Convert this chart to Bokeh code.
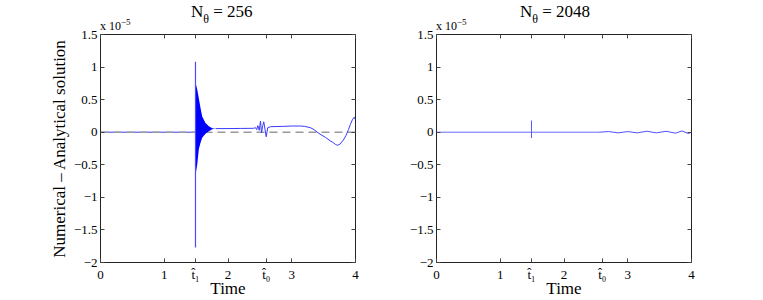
from bokeh.plotting import figure
from bokeh.layouts import row, column
from bokeh.models import LinearAxis, FixedTicker, Range1d, Div
from bokeh.embed import file_html
from bokeh.resources import INLINE

# ---------------- data (values in units of 1e-5) ----------------
t_hat1 = 1.49
t_hat0 = 2.60
x_ticks = [0, 1, t_hat1, 2, t_hat0, 3, 4]
x_tick_labels = ["0", "1", "t\u0302\u2081", "2", "t\u0302\u2080", "3", "4"]
y_ticks = [-2, -1.5, -1, -0.5, 0, 0.5, 1, 1.5]
y_tick_labels = ["\u22122", "\u22121.5", "\u22121", "\u22120.5", "0", "0.5", "1", "1.5"]
titles = ["256", "2048"]
y_label = "Numerical \u2013 Analytical solution"
x_label = "Time"

# N_theta = 256
pre_time = [0.0, 1.49]
pre_diff = [0.0, 0.0]
spike_time = [1.49, 1.49]
spike_diff = [-1.77, 1.08]
env_time = [1.490, 1.500, 1.517, 1.542, 1.569, 1.595, 1.647, 1.699, 1.752, 1.804]
env_upper = [0.80, 0.72, 0.66, 0.52, 0.37, 0.24, 0.14, 0.09, 0.06, 0.055]
env_lower = [-0.70, -0.60, -0.50, -0.26, -0.16, -0.085, -0.025, 0.015, 0.045, 0.055]
post_time = [1.804, 2.0, 2.2, 2.40, 2.43, 2.45, 2.468, 2.49, 2.51, 2.525, 2.545,
             2.561, 2.58, 2.599, 2.624, 2.67, 2.87, 3.0, 3.14, 3.2, 3.29, 3.35,
             3.40, 3.46, 3.53, 3.6, 3.65, 3.69, 3.72, 3.76, 3.81, 3.85, 3.89,
             3.92, 3.95, 3.98, 4.0]
post_diff = [0.055, 0.056, 0.058, 0.06, 0.07, 0.04, 0.10, 0.03, 0.17, -0.01, 0.10,
             0.16, 0.05, -0.07, 0.07, 0.085, 0.09, 0.095, 0.095, 0.09, 0.07, 0.04,
             0.0, -0.04, -0.08, -0.13, -0.16, -0.19, -0.20, -0.18, -0.12, -0.05, 0.04,
             0.12, 0.19, 0.23, 0.19]

# N_theta = 2048
r_base_time = [0.0, 2.55]
r_base_diff = [0.0, 0.0]
r_spike_time = [1.49, 1.49]
r_spike_diff = [-0.09, 0.18]
r_tail_time = [2.55, 2.7, 2.85, 3.0, 3.15, 3.3, 3.45, 3.6, 3.75, 3.85, 3.95, 4.0]
r_tail_diff = [0.0, 0.01, -0.01, 0.01, -0.01, 0.015, -0.01, 0.015, -0.015, 0.02, -0.02, 0.0]

SERIF = "Liberation Serif"
TXT = "#000000"
HEAD_H = 26


def make_fig(width, bl, br, ylabel):
    p = figure(width=width, height=300 - HEAD_H, x_range=Range1d(0, 4), y_range=Range1d(-2, 1.5),
               output_backend="svg", toolbar_location=None,
               min_border_left=bl, min_border_right=br, min_border_top=8, min_border_bottom=35)
    p.grid.visible = False
    p.outline_line_color = "#222222"
    p.outline_line_width = 1
    p.background_fill_color = "white"
    p.border_fill_alpha = 0
    p.xaxis.ticker = FixedTicker(ticks=x_ticks)
    p.xaxis.major_label_overrides = {k: v for k, v in zip(x_ticks, x_tick_labels)}
    p.yaxis.ticker = FixedTicker(ticks=y_ticks)
    p.yaxis.major_label_overrides = {k: v for k, v in zip(y_ticks, y_tick_labels)}
    # tick-only axes on the top and right sides (labels not painted)
    top = LinearAxis(ticker=FixedTicker(ticks=x_ticks), major_label_standoff=0)
    right = LinearAxis(ticker=FixedTicker(ticks=y_ticks), major_label_standoff=0)
    p.add_layout(top, "above")
    p.add_layout(right, "right")
    for ax in p.axis:
        ax.axis_line_color = None
        ax.major_tick_in = 4
        ax.major_tick_out = 0
        ax.major_tick_line_color = "#444444"
        ax.minor_tick_line_color = None
        ax.major_label_text_font = SERIF
        ax.major_label_text_color = TXT
    for ax in (top, right):
        ax.major_label_text_font_size = "1px"
        ax.major_label_text_color = None
    bx = p.below[0]
    bx.major_label_text_font_size = "13px"
    bx.major_label_standoff = 4
    bx.axis_label = x_label
    bx.axis_label_text_font = SERIF
    bx.axis_label_text_font_size = "17px"
    bx.axis_label_text_font_style = "normal"
    bx.axis_label_text_color = TXT
    bx.axis_label_standoff = -6
    ly = p.left[0]
    ly.major_label_text_font_size = "13px"
    ly.major_label_standoff = 3
    if ylabel:
        ly.axis_label = ylabel
        ly.axis_label_text_font = SERIF
        ly.axis_label_text_font_size = "17px"
        ly.axis_label_text_font_style = "normal"
        ly.axis_label_text_color = TXT
        ly.axis_label_standoff = 2
    return p


def head(width, num, title_left, exp_left):
    html = (
        '<div style="position:relative;width:%dpx;height:%dpx;overflow:visible;'
        "font-family:'%s';color:#000\">"
        '<span style="position:absolute;left:%dpx;top:2px;font-size:17px;'
        'line-height:20px;white-space:nowrap">N<sub style="font-size:12px;line-height:0;'
        'vertical-align:-6px">\u03b8</sub> = %s</span>'
        '<span style="position:absolute;left:%dpx;top:19px;font-size:12px;'
        'line-height:14px;white-space:nowrap">x 10<sup style="font-size:9px;line-height:0;'
        'vertical-align:5px">\u22125</sup></span>'
        '</div>'
    ) % (width, HEAD_H, SERIF, title_left, num, exp_left)
    return Div(text=html, width=width, height=HEAD_H, margin=0,
               styles={"overflow": "visible", "z-index": "1"})


# ---------------- left plot ----------------
p1 = make_fig(365, 100, 10, y_label)
p1.line(pre_time, pre_diff, line_color="#3a3aff", line_width=1)
p1.line([0, 4], [0, 0], line_color="#9a9a9a", line_width=1.5, line_dash="8 5")
p1.varea(x=env_time, y1=env_lower, y2=env_upper, fill_color="#0000ff")
p1.line(spike_time, spike_diff, line_color="#4a4aff", line_width=1.2)
p1.line(post_time, post_diff, line_color="#3a3aff", line_width=1)

# ---------------- right plot ----------------
p2 = make_fig(382, 71, 56, None)
p2.line(r_base_time, r_base_diff, line_color="#6a6aff", line_width=1)
p2.line(r_spike_time, r_spike_diff, line_color="#5a5aff", line_width=1)
p2.line(r_tail_time, r_tail_diff, line_color="#5050ff", line_width=1)

h1 = head(365, titles[0], 191, 100)
h2 = head(382, titles[1], 155, 71)

layout = column(row(h1, h2), row(p1, p2))
open("out.html", "w").write(file_html(layout, INLINE))
